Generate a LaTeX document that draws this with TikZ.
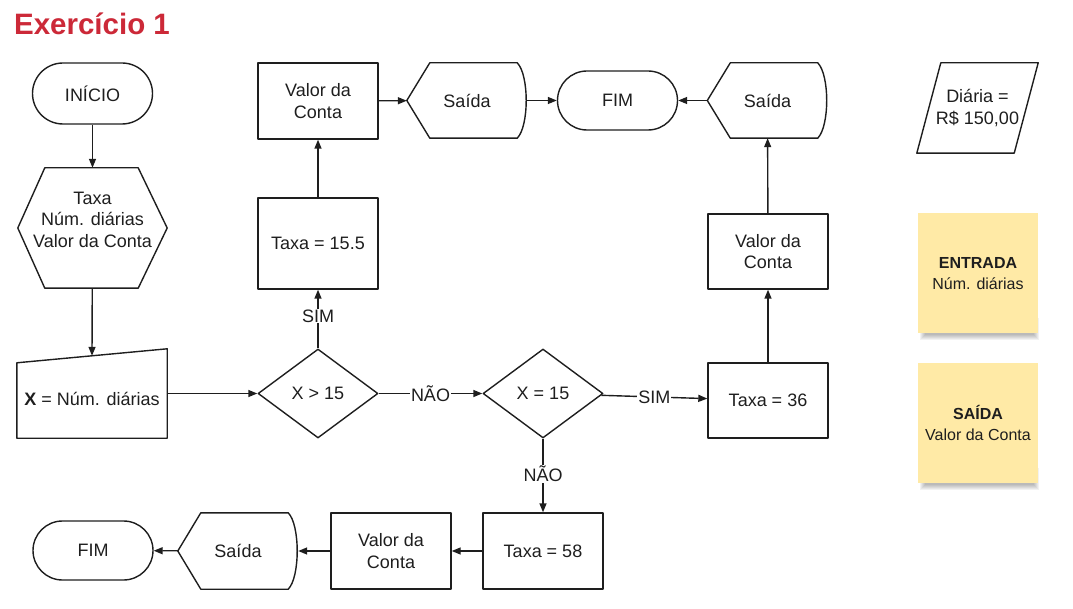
\documentclass[tikz,border=0pt]{standalone}
\usepackage{fontspec}
\setmainfont{Liberation Sans}
\usetikzlibrary{arrows.meta, calc, shapes.geometric}
\definecolor{titlered}{RGB}{204, 41, 56}
\definecolor{linegray}{RGB}{30, 30, 30}
\definecolor{notefill}{RGB}{255, 234, 166}
\tikzset{
  >=Triangle,
  flowarrow/.style={-{Triangle[length=9pt, width=7pt]}, line width=1.4pt, linegray},
  outline/.style={line width=1.4pt, draw=linegray, line join=round}
}

\begin{document}
\begin{tikzpicture}[x=1pt, y=-1pt,
    every node/.style={font=\fontsize{18}{21.5}\selectfont, text=linegray, align=center, inner sep=0pt},
    procbox/.style={rectangle, outline, minimum width=120pt, minimum height=76pt},
    termbox/.style={rectangle, outline, rounded corners=29.5pt, minimum width=120pt, minimum height=59pt},
    decbox/.style={diamond, outline, aspect=1.35, minimum width=120pt, minimum height=89pt},
    freebox/.style={rectangle, minimum width=120pt, minimum height=76pt},
    notebox/.style={rectangle, fill=notefill, minimum width=120pt, minimum height=120pt, font=\fontsize{16}{21}\selectfont},
    lbl/.style={fill=white, inner sep=1pt}
]
    \useasboundingbox (0,0) rectangle (1073,609);

    % Title
    \node (title) at (92,24) [font=\fontsize{29.5}{32}\bfseries\selectfont, text=titlered] {Exercício 1};

    % Left column
    \node[termbox, minimum height=61pt, rounded corners=30.5pt] (ini) at (92.5,93.5) {INÍCIO};
    \node[freebox, minimum width=149pt, minimum height=120pt, text depth=17pt] (hx) at (92.5,228) {Taxa\\Núm. diárias\\Valor da Conta};
    \draw[outline] (hx.west) -- ($(hx.north west)+(27,0)$) -- ($(hx.north east)+(-29,0)$) -- (hx.east)
        -- ($(hx.south east)+(-29,0)$) -- ($(hx.south west)+(27,0)$) -- cycle;
    \node[freebox, minimum width=150pt, minimum height=78pt] (mi) at (92,399) {\textbf{X} = Núm. diárias};
    \draw[outline] ($(mi.north west)+(0,3)$) -- ($(mi.north east)+(0,-11)$) -- (mi.south east) -- (mi.south west) -- cycle;
    \coordinate (mitop) at ($(mi.north)+(0,-4)$);

    % Decisions
    \node[decbox] (gt) at (318,393.5) {X > 15};
    \node[decbox] (eq) at (543,393.5) {X = 15};

    % Branch X > 15
    \node[procbox, minimum height=91pt] (t155) at (318,243.5) {Taxa = 15.5};
    \node[procbox] (vc1) at (318,101) {Valor da\\Conta};
    \node[freebox, minimum height=75pt] (sa) at (467,100.5) {Saída};
    \node[termbox] (fim1) at (617.5,100.5) {FIM};

    % Branch X = 15
    \node[procbox, minimum height=75pt] (t36) at (768,400.5) {Taxa = 36};
    \node[procbox, minimum height=75pt] (vc2) at (768,251.5) {Valor da\\Conta};
    \node[freebox, minimum height=75pt] (sb) at (767.5,100.5) {Saída};

    % Branch X < 15
    \node[procbox] (t58) at (543,551) {Taxa = 58};
    \node[procbox] (vc3) at (391,551) {Valor da\\Conta};
    \node[freebox] (sc) at (238,551) {Saída};
    \node[termbox] (fim2) at (93,550.5) {FIM};

    % Display outlines
    \foreach \s in {sa, sb, sc} {
        \draw[outline] (\s.west) -- ($(\s.north west)+(23,0)$) -- ($(\s.north east)+(-10,0)$)
            .. controls ($(\s.north east)+(2,12)$) and ($(\s.south east)+(2,-12)$) .. ($(\s.south east)+(-10,0)$)
            -- ($(\s.south west)+(23,0)$) -- cycle;
    }

    % Arrows
    \draw[flowarrow] (ini) -- (hx);
    \draw[flowarrow] (hx) -- (mitop);
    \coordinate (miout) at (mi.east |- gt.west);
    \draw[flowarrow] (miout) -- (gt);
    \draw[flowarrow] (gt) -- node[lbl, pos=0.55] {SIM} (t155);
    \draw[flowarrow] (t155) -- (vc1);
    \draw[flowarrow] (vc1) -- (sa);
    \draw[flowarrow] (sa) -- (fim1);
    \draw[flowarrow] (gt) -- node[lbl] {NÃO} (eq);
    \draw[flowarrow] (eq) -- node[lbl] {SIM} (t36);
    \draw[flowarrow] (t36) -- (vc2);
    \draw[flowarrow] (vc2) -- (sb);
    \draw[flowarrow] (sb) -- (fim1);
    \draw[flowarrow] (eq) -- node[lbl, pos=0.48] {NÃO} (t58);
    \draw[flowarrow] (t58) -- (vc3);
    \draw[flowarrow] (vc3) -- (sc);
    \draw[flowarrow] (sc) -- (fim2);

    % Constant
    \node[freebox, minimum width=121pt, minimum height=90pt] (dia) at (977.5,108) {Diária =\\R\$ 150,00};
    \draw[outline] ($(dia.north west)+(24,0)$) -- (dia.north east) -- ($(dia.south east)+(-24,0)$) -- (dia.south west) -- cycle;

    % Notes with shadow
    \foreach \y in {273.5, 423} {
        \foreach \k in {0,...,5} {
            \fill[black, opacity=0.05] (925-\k,\y+50-\k) rectangle (1034+\k,\y+62+\k);
        }
    }
    \node[notebox] (ent) at (978,273.5) {\textbf{ENTRADA}\\Núm. diárias};
    \node[notebox] (sai) at (978,423) {\textbf{SAÍDA}\\Valor da Conta};
\end{tikzpicture}
\end{document}
